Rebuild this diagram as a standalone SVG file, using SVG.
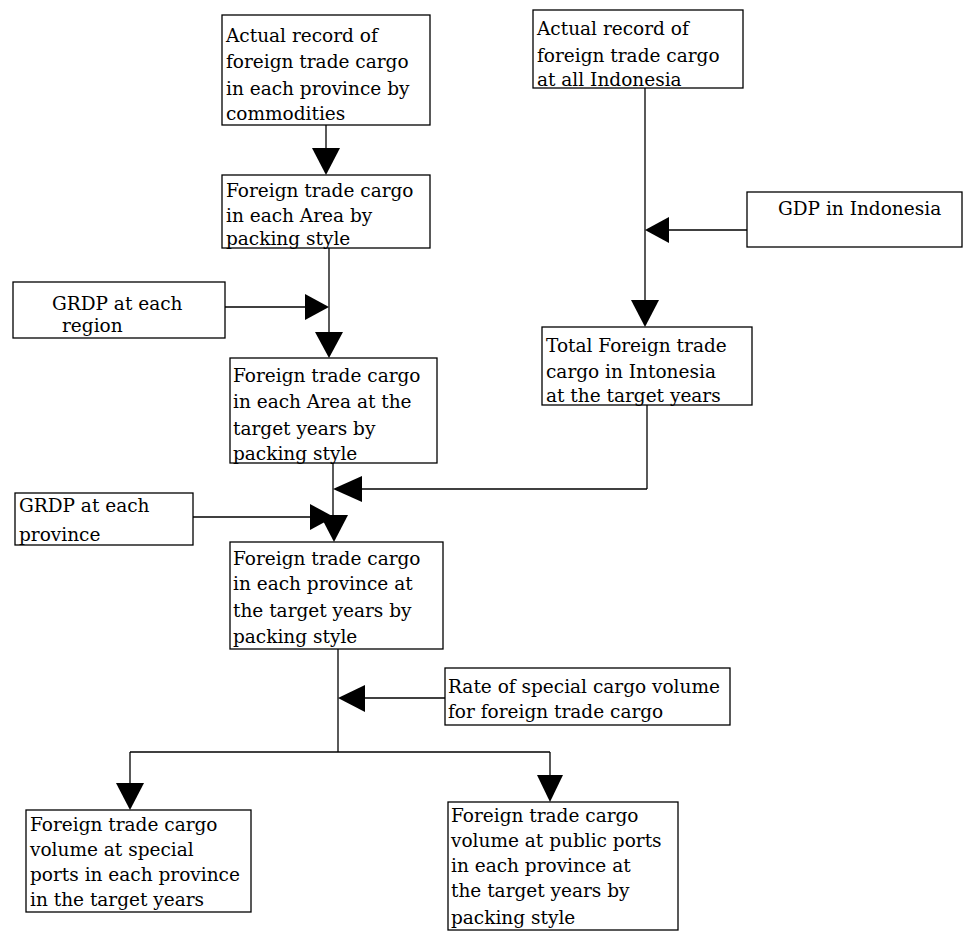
<svg xmlns="http://www.w3.org/2000/svg" width="970" height="935" viewBox="0 0 970 935">
<style>
rect.box{fill:#fff;stroke:#000;stroke-width:1.3}
text{font-family:"DejaVu Serif","Liberation Serif",serif;font-size:18.5px;fill:#000}
.ln{stroke:#000;stroke-width:1.3;fill:none}
.ah{fill:#000;stroke:none}
</style>
<rect width="970" height="935" fill="#fff"/>
<g id="connectors">
<line class="ln" x1="326" y1="125" x2="326" y2="150"/>
<polygon class="ah" points="312,148 340,148 326,175"/>
<line class="ln" x1="329" y1="248" x2="329" y2="334"/>
<line class="ln" x1="225" y1="307" x2="307" y2="307"/>
<polygon class="ah" points="305,294 305,320 329,307"/>
<polygon class="ah" points="315,332 343,332 329,358"/>
<line class="ln" x1="645" y1="88" x2="645" y2="302"/>
<line class="ln" x1="747" y1="230" x2="667" y2="230"/>
<polygon class="ah" points="645,230 669,217 669,243"/>
<polygon class="ah" points="631,300 659,300 645,327"/>
<line class="ln" x1="647" y1="405" x2="647" y2="489"/>
<line class="ln" x1="647" y1="489" x2="360" y2="489"/>
<polygon class="ah" points="333,489 362,476 362,502"/>
<line class="ln" x1="333" y1="463" x2="333" y2="517"/>
<line class="ln" x1="193" y1="517" x2="312" y2="517"/>
<polygon class="ah" points="310,504 310,530 334,517"/>
<polygon class="ah" points="320,515 348,515 334,542"/>
<line class="ln" x1="338" y1="649" x2="338" y2="752"/>
<line class="ln" x1="445" y1="698" x2="363" y2="698"/>
<polygon class="ah" points="338,698 365,685 365,712"/>
<line class="ln" x1="130" y1="752" x2="550" y2="752"/>
<line class="ln" x1="130" y1="752" x2="130" y2="785"/>
<polygon class="ah" points="116,783 144,783 130,810"/>
<line class="ln" x1="550" y1="752" x2="550" y2="777"/>
<polygon class="ah" points="537,775 563,775 550,802"/>
</g>
<g id="n1">
<rect class="box" x="222" y="15" width="208" height="110"/>
<text x="226" y="42">Actual record of</text>
<text x="226" y="68">foreign trade cargo</text>
<text x="226" y="95">in each province by</text>
<text x="226" y="120">commodities</text>
</g>
<g id="n2">
<rect class="box" x="222" y="175" width="208" height="73"/>
<text x="226" y="197">Foreign trade cargo</text>
<text x="226" y="222">in each Area by</text>
<text x="226" y="245">packing style</text>
</g>
<g id="n3">
<rect class="box" x="13" y="282" width="212" height="56"/>
<text x="52" y="310">GRDP at each</text>
<text x="62" y="332">region</text>
</g>
<g id="n4">
<rect class="box" x="230" y="358" width="207" height="105"/>
<text x="233" y="382">Foreign trade cargo</text>
<text x="233" y="408">in each Area at the</text>
<text x="233" y="435">target years by</text>
<text x="233" y="460">packing style</text>
</g>
<g id="n5">
<rect class="box" x="533" y="10" width="210" height="78"/>
<text x="537" y="35">Actual record of</text>
<text x="537" y="62">foreign trade cargo</text>
<text x="537" y="86">at all Indonesia</text>
</g>
<g id="n6">
<rect class="box" x="747" y="192" width="215" height="55"/>
<text x="778" y="215">GDP in Indonesia</text>
</g>
<g id="n7">
<rect class="box" x="542" y="327" width="210" height="78"/>
<text x="546" y="352">Total Foreign trade</text>
<text x="546" y="378">cargo in Intonesia</text>
<text x="546" y="402">at the target years</text>
</g>
<g id="n8">
<rect class="box" x="15" y="493" width="178" height="52"/>
<text x="19" y="512">GRDP at each</text>
<text x="19" y="541">province</text>
</g>
<g id="n9">
<rect class="box" x="230" y="542" width="213" height="107"/>
<text x="233" y="565">Foreign trade cargo</text>
<text x="233" y="590">in each province at</text>
<text x="233" y="617">the target years by</text>
<text x="233" y="643">packing style</text>
</g>
<g id="n10">
<rect class="box" x="445" y="668" width="285" height="57"/>
<text x="448" y="693">Rate of special cargo volume</text>
<text x="448" y="718">for foreign trade cargo</text>
</g>
<g id="n11">
<rect class="box" x="26" y="810" width="225" height="102"/>
<text x="30" y="831">Foreign trade cargo</text>
<text x="30" y="856">volume at special</text>
<text x="30" y="881">ports in each province</text>
<text x="30" y="906">in the target years</text>
</g>
<g id="n12">
<rect class="box" x="448" y="802" width="230" height="128"/>
<text x="451" y="822">Foreign trade cargo</text>
<text x="451" y="847">volume at public ports</text>
<text x="451" y="872">in each province at</text>
<text x="451" y="897">the target years by</text>
<text x="451" y="924">packing style</text>
</g>
</svg>
